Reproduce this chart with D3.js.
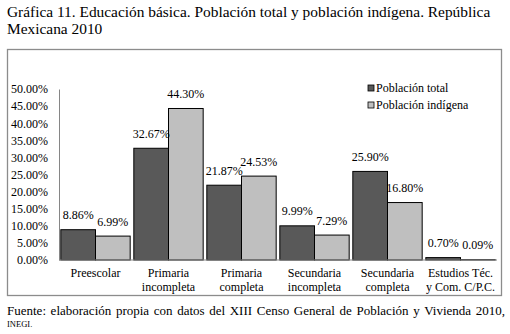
<html>
<head>
<meta charset="UTF-8"/>
<script src="https://d3js.org/d3.v7.min.js"></script>
<title>Gráfica 11</title>
<style>
body{ margin:0; background:#fff; }
svg text{ font-family:'Liberation Serif', 'Times New Roman', 'DejaVu Serif', serif; fill:#000; }
</style>
</head>
<body>
<svg id='chart' width=510 height=334></svg>
<script>
'use strict';
var categories = [['Preescolar'], ['Primaria','incompleta'], ['Primaria','completa'],
                  ['Secundaria','incompleta'], ['Secundaria','completa'], ['Estudios Téc.','y Com. C/P.C.']];
var seriesNames = ['Población total', 'Población indígena'];
var total = [8.86, 32.67, 21.87, 9.99, 25.90, 0.70];
var indigena = [6.99, 44.30, 24.53, 7.29, 16.80, 0.09];
var yTicks = [0, 5, 10, 15, 20, 25, 30, 35, 40, 45, 50];
var colors = ['#595959', '#bfbfbf'];

var svg = d3.select('#chart');

// title
svg.append('text').attr('x', 7).attr('y', 17).attr('font-size', 15.4)
    .text('Gráfica 11. Educación básica. Población total y población indígena. República');
svg.append('text').attr('x', 7).attr('y', 34).attr('font-size', 15.4)
    .text('Mexicana 2010');

// chart frame
svg.append('rect').attr('x', 7.5).attr('y', 49.5).attr('width', 494).attr('height', 246)
    .attr('fill', 'none').attr('stroke', '#8c8c8c').attr('stroke-width', 1.3);

var keys = categories.map(function(c){ return c.join(' '); });
var x0 = d3.scaleBand().domain(keys).range([59, 497]).paddingInner(0.05).paddingOuter(0.025);
var x1 = d3.scaleBand().domain(seriesNames).range([0, x0.bandwidth()]);
var y = d3.scaleLinear().domain([0, 50]).range([260, 89]);

var yAxis = d3.axisLeft(y).tickValues(yTicks).tickSize(0).tickPadding(11)
    .tickFormat(function(d){ return d.toFixed(2) + '%'; });
var gy = svg.append('g').attr('transform', 'translate(59,0)').call(yAxis);
gy.attr('font-family', null);
gy.select('.domain').attr('stroke', '#868686');
gy.selectAll('text').attr('font-size', 12);

// bars
var rows = keys.map(function(k, i){ return {key: k, vals: [total[i], indigena[i]]}; });
var groups = svg.selectAll('g.grp').data(rows).enter().append('g')
    .attr('class', 'grp')
    .attr('transform', function(d){ return 'translate(' + x0(d.key) + ',0)'; });

groups.selectAll('rect').data(function(d){ return d.vals.map(function(v, j){ return {s: seriesNames[j], v: v, j: j}; }); })
    .enter().append('rect')
    .attr('x', function(d){ return x1(d.s); })
    .attr('y', function(d){ return y(d.v); })
    .attr('width', x1.bandwidth())
    .attr('height', function(d){ return y(0) - y(d.v); })
    .attr('fill', function(d){ return colors[d.j]; })
    .attr('stroke', '#000').attr('stroke-width', 1);

groups.selectAll('text.lbl').data(function(d){ return d.vals.map(function(v, j){ return {s: seriesNames[j], v: v}; }); })
    .enter().append('text')
    .attr('class', 'lbl')
    .attr('x', function(d){ return x1(d.s) + x1.bandwidth() / 2; })
    .attr('y', function(d){ return y(d.v) - 10.5; })
    .attr('text-anchor', 'middle').attr('font-size', 12)
    .text(function(d){ return d.v.toFixed(2) + '%'; });

// baseline
svg.append('line').attr('x1', 59).attr('x2', 497).attr('y1', y(0)).attr('y2', y(0))
    .attr('stroke', '#868686');

// category labels
categories.forEach(function(c, i){
    c.forEach(function(line, k){
        svg.append('text')
            .attr('x', x0(keys[i]) + x0.bandwidth() / 2)
            .attr('y', 277 + k * 14)
            .attr('text-anchor', 'middle').attr('font-size', 12)
            .text(line);
    });
});

// legend
var leg = svg.selectAll('g.leg').data(seriesNames).enter().append('g')
    .attr('transform', function(d, i){ return 'translate(368,' + (85 + i * 17) + ')'; });
leg.append('rect').attr('width', 6).attr('height', 6)
    .attr('fill', function(d, i){ return colors[i]; }).attr('stroke', '#000').attr('stroke-width', 0.8);
leg.append('text').attr('x', 8).attr('y', 6.5).attr('font-size', 12).text(function(d){ return d; });

// footnote, justified
var note = 'Fuente: elaboración propia con datos del XIII Censo General de Población y Vivienda 2010,'.split(' ');
var noteG = svg.append('g');
var words = noteG.selectAll('text').data(note).enter().append('text')
    .attr('y', 315).attr('font-size', 13).text(function(d){ return d; });
var widths = [];
words.each(function(){ widths.push(this.getComputedTextLength()); });
var gap = (505 - 7 - d3.sum(widths)) / (note.length - 1);
var cx = 7;
words.attr('x', function(d, i){ var p = cx; cx += widths[i] + gap; return p; });
svg.append('text').attr('x', 7).attr('y', 327).attr('font-size', 8.5).text('INEGI.');
</script>
</body>
</html>
